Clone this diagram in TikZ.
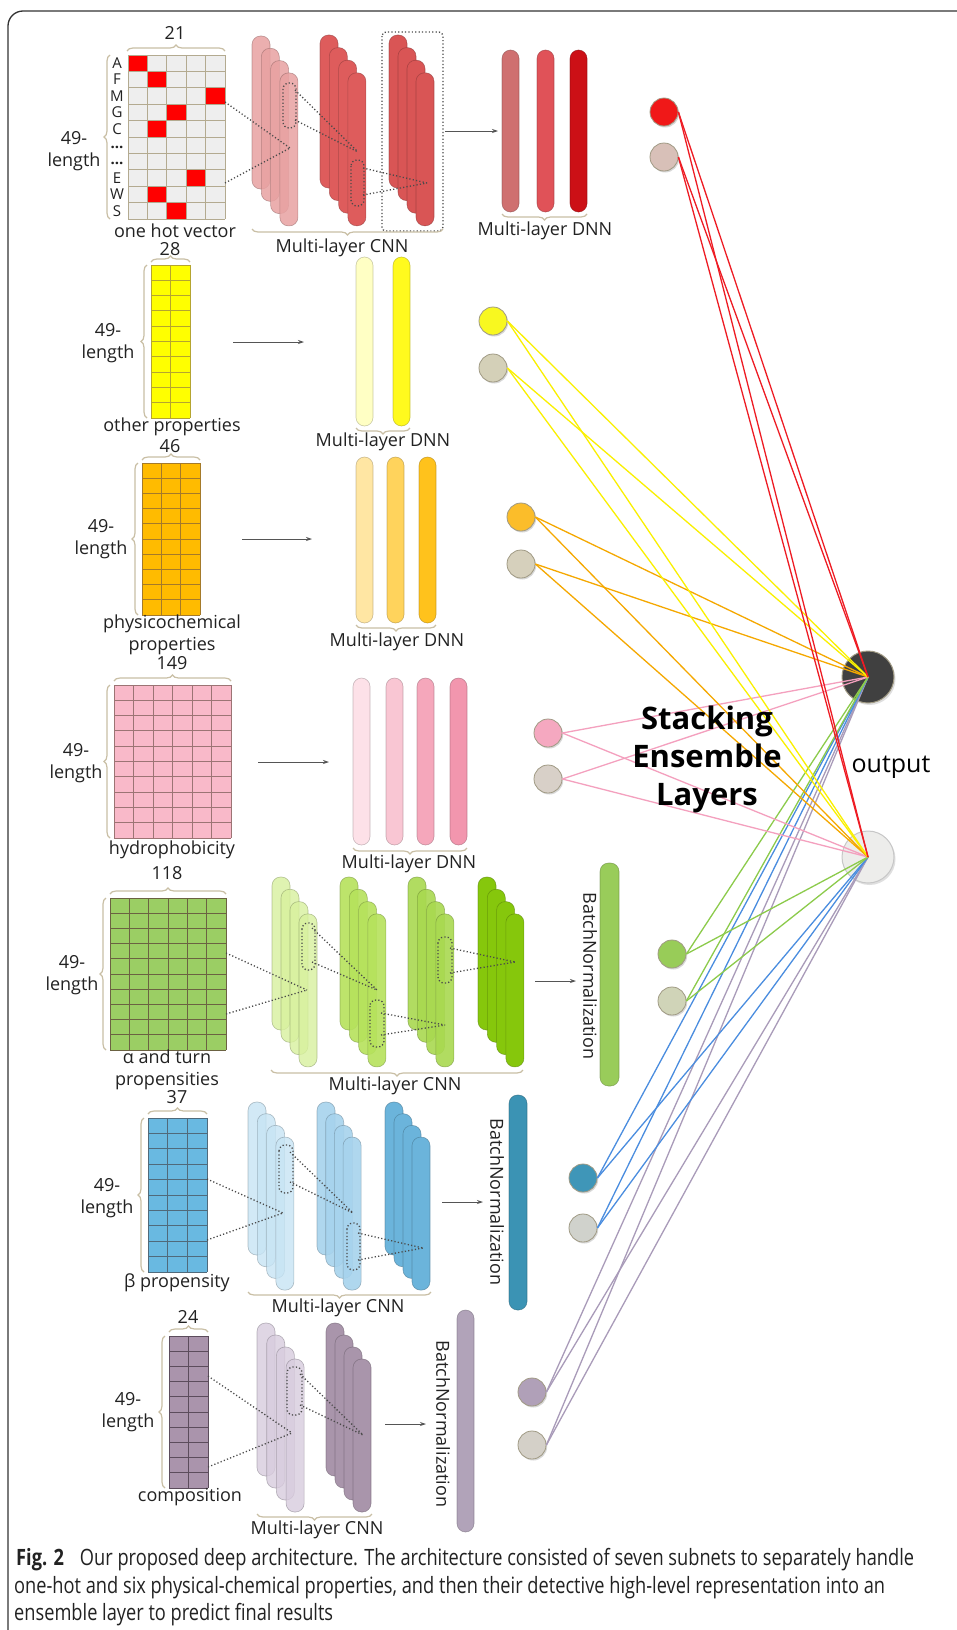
\documentclass[tikz,border=0pt]{standalone}
\usepackage{fontspec}
\setmainfont{Open Sans}
\newfontfamily\capfont[FakeStretch=0.81]{Open Sans}
\usetikzlibrary{arrows.meta,decorations.pathreplacing,shadows}

% palette
\definecolor{txt}{HTML}{222222}
\definecolor{framec}{HTML}{333333}
\definecolor{bracec}{HTML}{C9BFA5}
\definecolor{dotc}{HTML}{4A4A4A}
\definecolor{arrc}{HTML}{555555}
\definecolor{ohFill}{HTML}{EEEEEE}
\definecolor{ohLine}{HTML}{B3AA90}
\definecolor{hot}{HTML}{FF0000}
\definecolor{redA}{HTML}{E8A2A2}
\definecolor{redB}{HTML}{DE5C5C}
\definecolor{redC}{HTML}{D95555}
\definecolor{dnnRa}{HTML}{CF7070}
\definecolor{dnnRb}{HTML}{E05258}
\definecolor{dnnRc}{HTML}{CC1016}
\definecolor{yelGrid}{HTML}{FFFF00}
\definecolor{yelLine}{HTML}{B5A530}
\definecolor{yelDa}{HTML}{FFFFC4}
\definecolor{yelDb}{HTML}{FFFA1E}
\definecolor{oraGrid}{HTML}{FFBB00}
\definecolor{oraLine}{HTML}{A47A2A}
\definecolor{oraDa}{HTML}{FFE6A3}
\definecolor{oraDb}{HTML}{FFD35C}
\definecolor{oraDc}{HTML}{FFC21C}
\definecolor{pinkGrid}{HTML}{F9B9C9}
\definecolor{pinkLine}{HTML}{9C7474}
\definecolor{pinkDa}{HTML}{FDE1E8}
\definecolor{pinkDb}{HTML}{F9C6D3}
\definecolor{pinkDc}{HTML}{F5A7BB}
\definecolor{pinkDd}{HTML}{F296AE}
\definecolor{grnGrid}{HTML}{9BCE64}
\definecolor{grnLine}{HTML}{6B6242}
\definecolor{grnA}{HTML}{D8F19E}
\definecolor{grnB}{HTML}{B6E25C}
\definecolor{grnC}{HTML}{A9D950}
\definecolor{grnD}{HTML}{86C70C}
\definecolor{grnBN}{HTML}{99CC5A}
\definecolor{bluGrid}{HTML}{69B9E1}
\definecolor{bluLine}{HTML}{506A7B}
\definecolor{bluA}{HTML}{C7E4F4}
\definecolor{bluB}{HTML}{A7D3ED}
\definecolor{bluC}{HTML}{6BB4DB}
\definecolor{bluBN}{HTML}{3B93B4}
\definecolor{purGrid}{HTML}{AA94AC}
\definecolor{purLine}{HTML}{5C4C5C}
\definecolor{purA}{HTML}{D8CCDE}
\definecolor{purB}{HTML}{A995AB}
\definecolor{purBN}{HTML}{B1A3B9}
% ensemble nodes
\definecolor{enR}{HTML}{F01818}
\definecolor{enRg}{HTML}{D8C0B8}
\definecolor{enY}{HTML}{F8F820}
\definecolor{enYg}{HTML}{D4D0B8}
\definecolor{enO}{HTML}{FBBD2A}
\definecolor{enOg}{HTML}{D6D0BC}
\definecolor{enP}{HTML}{F5A8C0}
\definecolor{enPg}{HTML}{D8D0C8}
\definecolor{enG}{HTML}{98CC58}
\definecolor{enGg}{HTML}{D0D4B8}
\definecolor{enB}{HTML}{3F96B8}
\definecolor{enBg}{HTML}{D0D2CC}
\definecolor{enU}{HTML}{B0A0B8}
\definecolor{enUg}{HTML}{D4D0C8}
\definecolor{outDark}{HTML}{404040}
\definecolor{outLight}{HTML}{EDEDEB}
\definecolor{ensline}{HTML}{A09A84}
% ensemble links
\definecolor{lnR}{HTML}{EE1C24}
\definecolor{lnY}{HTML}{FAF000}
\definecolor{lnO}{HTML}{F5A800}
\definecolor{lnP}{HTML}{F4A0BE}
\definecolor{lnG}{HTML}{8CCB4B}
\definecolor{lnB}{HTML}{4A8DDF}
\definecolor{lnU}{HTML}{A99BB9}

\tikzset{
  lbl/.style={inner sep=0pt, font=\fontsize{18}{22}\selectfont, text=txt, align=center},
  rowlbl/.style={inner sep=0pt, font=\fontsize{15}{15}\selectfont, text=txt, text height=10.5pt, text depth=0pt},
  curly/.style={decorate, decoration={brace, amplitude=6pt}, draw=bracec, line width=1.2pt},
  cellline/.style={line width=0.9pt},
  pilstyle/.style={rounded corners=8.5pt, line width=0.6pt},
  dotline/.style={draw=dotc, line width=1.3pt, dash pattern=on 1.2pt off 2.2pt},
  flow/.style={draw=arrc, line width=0.8pt, -{Stealth[length=6pt,width=4pt]}},
  ens/.style={circle, minimum size=28pt, inner sep=0pt, draw=ensline, line width=0.8pt,
    drop shadow={shadow xshift=1.2pt, shadow yshift=-1.5pt, opacity=0.3}},
  outnode/.style={circle, minimum size=52pt, inner sep=0pt, line width=1pt,
    drop shadow={shadow xshift=1.5pt, shadow yshift=-2pt, opacity=0.25}},
  link/.style={line width=1.3pt},
  frame/.style={draw=framec, line width=1.3pt, rounded corners=15pt},
  caption/.style={anchor=base west, inner sep=0pt, font=\capfont\fontsize{22.5}{27}\selectfont, text=txt},
}

% one rounded layer bar: x, top y, width, height, fill, fill opacity
\newcommand{\pil}[6]{%
  \draw[pilstyle, fill=#5, fill opacity=#6, draw=#5!65!black, draw opacity=0.6] (#1,#2) rectangle ++(#3,#4);}
% four stacked feature maps: x, top y, dx, dy, fill, fill opacity
\newcommand{\cnnstack}[6]{%
  \foreach \k in {0,1,2,3}{\pil{#1+\k*#3}{#2+\k*#4}{18}{153}{#5}{#6}}}
% input matrix with ten rows: x1, y1, x2, y2, columns, fill, line colour
\newcommand{\featgrid}[7]{%
  \fill[#6] (#1,#2) rectangle (#3,#4);
  \foreach \k in {0,...,#5}{\draw[draw=#7, cellline] ({#1+(#3-#1)*\k/#5},#2) -- ({#1+(#3-#1)*\k/#5},#4);}
  \foreach \k in {0,...,10}{\draw[draw=#7, cellline] (#1,{#2+(#4-#2)*\k/10}) -- (#3,{#2+(#4-#2)*\k/10});}}

\begin{document}
\begin{tikzpicture}[x=1pt,y=-1pt]
\useasboundingbox (0,0) rectangle (956,1630);
\fill[white] (0,0) rectangle (956,1630);
\draw[frame] (8,11) rectangle (995,1670);

%% ---------- subnet 1: one-hot ----------
\fill[ohFill] (128,55) rectangle (225,219);
\foreach \c/\r in {0/0,1/1,4/2,2/3,1/4,3/7,1/8,2/9}
  \fill[hot] ({128+19.4*\c},{55+16.4*\r}) rectangle ++(19.4,16.4);
\foreach \k in {0,...,5}{\draw[draw=ohLine, cellline] ({128+19.4*\k},55) -- ({128+19.4*\k},219);}
\foreach \k in {0,...,10}{\draw[draw=ohLine, cellline] (128,{55+16.4*\k}) -- (225,{55+16.4*\k});}
\node[rowlbl] (rA) at (117,63.2) {A};
\node[rowlbl] (rF) at (117,79.6) {F};
\node[rowlbl] (rM) at (117,96) {M};
\node[rowlbl] (rG) at (117,112.4) {G};
\node[rowlbl] (rC) at (117,128.8) {C};
\node[rowlbl] (rd1) at (117,143) {\textbf{...}};
\node[rowlbl] (rd2) at (117,159.5) {\textbf{...}};
\node[rowlbl] (rE) at (117,178) {E};
\node[rowlbl] (rW) at (117,194.4) {W};
\node[rowlbl] (rS) at (117,210.8) {S};
\draw[curly] (127,51) -- (225,51);
\node[lbl] (n21) at (175,33) {21};
\draw[curly] (110,219) -- (110,55);
\node[lbl] (len1) at (74,151) {49-\\length};
\node[lbl] (ohv) at (175,231) {one hot vector};

\cnnstack{252}{36}{9.3}{12.3}{redA}{0.85}
\cnnstack{320}{35}{9.3}{12.6}{redB}{1}
\cnnstack{389}{35}{9.0}{12.6}{redC}{1}
\draw[dotline] (225,102) -- (290,148);
\draw[dotline] (225,183) -- (290,148);
\draw[dotline, rounded corners=6pt] (283,83) rectangle (296,128);
\draw[dotline] (295,90) -- (358,152);
\draw[dotline] (295,120) -- (358,152);
\draw[dotline, rounded corners=6pt] (351,160) rectangle (364,206);
\draw[dotline] (363,168) -- (427,183);
\draw[dotline] (363,195) -- (427,183);
\draw[dotline, rounded corners=4pt] (382,32) rectangle (443,231);
\draw[curly] (443,229) -- (252,229);
\node[lbl] (cnn1) at (342,248) {Multi-layer CNN};

\coordinate (a1s) at (445,131);
\coordinate (a1e) at (498,131);
\draw[flow] (a1s) -- (a1e);
\pil{502}{50}{17}{162}{dnnRa}{1}
\pil{537}{50}{17}{162}{dnnRb}{1}
\pil{570}{50}{17}{162}{dnnRc}{1}
\draw[curly] (587,214) -- (502,214);
\node[lbl] (dnn1) at (545,231) {Multi-layer DNN};

%% ---------- subnet 2: other properties ----------
\featgrid{151}{265}{190}{418}{2}{yelGrid}{yelLine}
\draw[curly] (151,262) -- (190,262);
\node[lbl] (n28) at (170,249) {28};
\draw[curly] (147,418) -- (147,265);
\node[lbl] (len2) at (108,343) {49-\\length};
\node[lbl] (oth) at (172,427) {other properties};
\coordinate (a2s) at (233,342);
\coordinate (a2e) at (304,342);
\draw[flow] (a2s) -- (a2e);
\pil{356}{257}{17}{169}{yelDa}{1}
\pil{393}{257}{17}{169}{yelDb}{1}
\draw[curly] (410,428) -- (356,428);
\node[lbl] (dnn2) at (383,442) {Multi-layer DNN};

%% ---------- subnet 3: physicochemical properties ----------
\featgrid{142}{463}{200}{615}{3}{oraGrid}{oraLine}
\draw[curly] (142,460) -- (200,460);
\node[lbl] (n46) at (170,446) {46};
\draw[curly] (138,615) -- (138,463);
\node[lbl] (len3) at (101,539) {49-\\length};
\node[lbl] (phy) at (172,635) {physicochemical\\properties};
\coordinate (a3s) at (242,539);
\coordinate (a3e) at (312,539);
\draw[flow] (a3s) -- (a3e);
\pil{356}{457}{17}{166}{oraDa}{1}
\pil{387}{457}{17}{166}{oraDb}{1}
\pil{419}{457}{17}{166}{oraDc}{1}
\draw[curly] (436,625) -- (356,625);
\node[lbl] (dnn3) at (397,642) {Multi-layer DNN};

%% ---------- subnet 4: hydrophobicity ----------
\featgrid{114}{685}{231}{838}{6}{pinkGrid}{pinkLine}
\draw[curly] (114,681) -- (231,681);
\node[lbl] (n149) at (172,663) {149};
\draw[curly] (110,838) -- (110,685);
\node[lbl] (len4) at (76,763) {49-\\length};
\node[lbl] (hyd) at (172,850) {hydrophobicity};
\coordinate (a4s) at (258,762);
\coordinate (a4e) at (329,762);
\draw[flow] (a4s) -- (a4e);
\pil{353}{678}{17}{167}{pinkDa}{1}
\pil{386}{678}{17}{167}{pinkDb}{1}
\pil{417}{678}{17}{167}{pinkDc}{1}
\pil{450}{678}{17}{167}{pinkDd}{1}
\draw[curly] (467,848) -- (353,848);
\node[lbl] (dnn4) at (409,864) {Multi-layer DNN};

%% ---------- subnet 5: alpha and turn propensities ----------
\featgrid{110}{898}{226}{1050}{6}{grnGrid}{grnLine}
\draw[curly] (110,894) -- (226,894);
\node[lbl] (n118) at (167,873) {118};
\draw[curly] (106,1050) -- (106,898);
\node[lbl] (len5) at (72,975) {49-\\length};
\node[lbl] (alp) at (167,1070) {α and turn\\propensities};
\cnnstack{272}{877}{9.0}{12.3}{grnA}{0.8}
\cnnstack{340}{877}{9.3}{12.3}{grnB}{0.9}
\cnnstack{408}{877}{9.3}{12.3}{grnC}{0.9}
\cnnstack{478}{877}{9.3}{12.3}{grnD}{1}
\draw[dotline] (226,953) -- (307,990);
\draw[dotline] (226,1014) -- (307,990);
\draw[dotline, rounded corners=6pt] (302,923) rectangle (315,970);
\draw[dotline] (312,928) -- (377,990);
\draw[dotline] (312,962) -- (377,990);
\draw[dotline, rounded corners=6pt] (370,1000) rectangle (384,1047);
\draw[dotline] (381,1013) -- (445,1025);
\draw[dotline] (381,1035) -- (445,1025);
\draw[dotline, rounded corners=6pt] (438,937) rectangle (452,983);
\draw[dotline] (450,948) -- (515,962);
\draw[dotline] (450,973) -- (515,962);
\draw[curly] (523,1070) -- (271,1070);
\node[lbl] (cnn5) at (395,1086) {Multi-layer CNN};
\coordinate (a5s) at (535,981);
\coordinate (a5e) at (576,981);
\draw[flow] (a5s) -- (a5e);
\pil{600}{863}{19}{223}{grnBN}{1}
\node[lbl, rotate=-90] (bn5) at (590,976) {BatchNormalization};

%% ---------- subnet 6: beta propensity ----------
\featgrid{148}{1118}{207}{1272}{3}{bluGrid}{bluLine}
\draw[curly] (148,1114) -- (207,1114);
\node[lbl] (n37) at (177,1097) {37};
\draw[curly] (144,1272) -- (144,1118);
\node[lbl] (len6) at (107,1198) {49-\\length};
\node[lbl] (bet) at (177,1283) {β propensity};
\cnnstack{248}{1102}{9.3}{11.7}{bluA}{0.8}
\cnnstack{317}{1102}{8.7}{11.7}{bluB}{0.9}
\cnnstack{385}{1102}{9.0}{11.7}{bluC}{1}
\draw[dotline] (207,1179) -- (283,1213);
\draw[dotline] (207,1240) -- (283,1213);
\draw[dotline, rounded corners=6pt] (279,1145) rectangle (293,1193);
\draw[dotline] (290,1152) -- (353,1213);
\draw[dotline] (290,1182) -- (353,1213);
\draw[dotline, rounded corners=6pt] (347,1223) rectangle (360,1270);
\draw[dotline] (358,1233) -- (423,1248);
\draw[dotline] (358,1260) -- (423,1248);
\draw[curly] (431,1292) -- (248,1292);
\node[lbl] (cnn6) at (338,1308) {Multi-layer CNN};
\coordinate (a6s) at (442,1202);
\coordinate (a6e) at (483,1202);
\draw[flow] (a6s) -- (a6e);
\pil{509}{1095}{18}{215}{bluBN}{1}
\node[lbl, rotate=-90] (bn6) at (497,1202) {BatchNormalization};

%% ---------- subnet 7: composition ----------
\featgrid{169}{1336}{208}{1488}{2}{purGrid}{purLine}
\draw[curly] (169,1332) -- (208,1332);
\node[lbl] (n24) at (188,1317) {24};
\draw[curly] (165,1488) -- (165,1336);
\node[lbl] (len7) at (128,1412) {49-\\length};
\node[lbl] (cmp) at (190,1497) {composition};
\cnnstack{257}{1323}{9.7}{12.0}{purA}{0.8}
\cnnstack{326}{1323}{9.0}{12.0}{purB}{1}
\draw[dotline] (208,1376) -- (292,1433);
\draw[dotline] (208,1467) -- (292,1433);
\draw[dotline, rounded corners=6pt] (287,1367) rectangle (302,1415);
\draw[dotline] (300,1374) -- (363,1435);
\draw[dotline] (300,1405) -- (363,1435);
\draw[curly] (372,1514) -- (257,1514);
\node[lbl] (cnn7) at (317,1530) {Multi-layer CNN};
\coordinate (a7s) at (385,1424);
\coordinate (a7e) at (426,1424);
\draw[flow] (a7s) -- (a7e);
\pil{457}{1310}{17}{222}{purBN}{1}
\node[lbl, rotate=-90] (bn7) at (443,1424) {BatchNormalization};

%% ---------- stacking ensemble ----------
\node[ens, fill=enR]  (r1) at (664,112) {};
\node[ens, fill=enRg] (r2) at (664,157) {};
\node[ens, fill=enY]  (y1) at (493,321) {};
\node[ens, fill=enYg] (y2) at (493,368) {};
\node[ens, fill=enO]  (o1) at (521,517) {};
\node[ens, fill=enOg] (o2) at (521,564) {};
\node[ens, fill=enP]  (p1) at (548,733) {};
\node[ens, fill=enPg] (p2) at (548,779) {};
\node[ens, fill=enG]  (g1) at (672,954) {};
\node[ens, fill=enGg] (g2) at (672,1001) {};
\node[ens, fill=enB]  (b1) at (583,1178) {};
\node[ens, fill=enBg] (b2) at (583,1228) {};
\node[ens, fill=enU]  (u1) at (532,1392) {};
\node[ens, fill=enUg] (u2) at (532,1445) {};

\node[outnode, fill=outDark, draw=ensline] (out1) at (868,677) {};
\node[outnode, fill=outLight, draw=black!22] (out2) at (868,857) {};

\foreach \n/\c in {u1/lnU,u2/lnU,b1/lnB,b2/lnB,g1/lnG,g2/lnG,p1/lnP,p2/lnP,o1/lnO,o2/lnO,y1/lnY,y2/lnY,r1/lnR,r2/lnR}{
  \draw[link, draw=\c] (\n.east) -- (out1.center);
  \draw[link, draw=\c] (\n.east) -- (out2.center);
}

\node[inner sep=0pt, font=\bfseries\fontsize{31}{38}\selectfont, text=black, align=center] (sel) at (707,759)
  {Stacking\\Ensemble\\Layers};
\node[inner sep=0pt, font=\fontsize{25}{25}\selectfont, text=black] (outl) at (891,767) {output};

%% ---------- caption ----------
\node[caption] (cap1) at (16,1565)
  {\textbf{Fig. 2}\hspace{0.5em} Our proposed deep architecture. The architecture consisted of seven subnets to separately handle};
\node[caption] (cap2) at (14,1593)
  {one-hot and six physical-chemical properties, and then their detective high-level representation into an};
\node[caption] (cap3) at (14,1620)
  {ensemble layer to predict final results};
\end{tikzpicture}
\end{document}
